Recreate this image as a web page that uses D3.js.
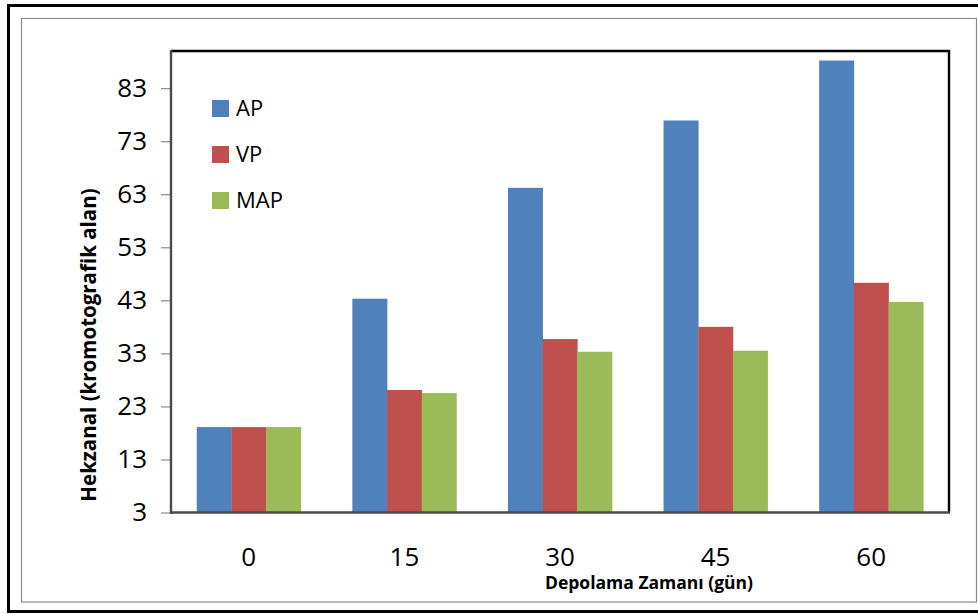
<!DOCTYPE html>
<html>
<head>
<meta charset="utf-8">
<script src="https://cdn.jsdelivr.net/npm/d3@7"></script>
<style>
  html, body { margin: 0; padding: 0; background: #fff; }
  svg { display: block; }
</style>
</head>
<body>
<svg id="chart" width="978" height="614"></svg>
<script>
// Storage time (days) and hexanal peak areas per packaging type
const categories = ["0", "15", "30", "45", "60"];
const seriesNames = ["AP", "VP", "MAP"];
const apValues  = [19.1, 43.3, 64.2, 76.9, 88.2];
const vpValues  = [19.1, 26.1, 35.7, 38.0, 46.3];
const mapValues = [19.1, 25.5, 33.3, 33.5, 42.7];
const yTicks = [3, 13, 23, 33, 43, 53, 63, 73, 83];
const colors = ["#4F81BD", "#C0504D", "#9BBB59"];

const seriesValues = [apValues, vpValues, mapValues];
const rows = categories.map((c, i) => ({
  cat: c,
  vals: seriesNames.map((s, j) => ({ name: s, value: seriesValues[j][i] }))
}));

const svg = d3.select("#chart");
const font = "'Open Sans', 'DejaVu Sans', sans-serif";

// outer frames
svg.append("rect").attr("x", 8.5).attr("y", 5.5).attr("width", 990).attr("height", 606)
  .attr("fill", "none").attr("stroke", "#000").attr("stroke-width", 3);
svg.append("rect").attr("x", 21.5).attr("y", 18.5).attr("width", 955).attr("height", 583.5)
  .attr("fill", "none").attr("stroke", "#8c8c8c").attr("stroke-width", 1.2);

const plot = { left: 171, right: 949, top: 51, bottom: 512.5 };

const x = d3.scaleBand().domain(categories).range([plot.left, plot.right]).paddingInner(0).paddingOuter(0);
const groupW = x.bandwidth() * 0.669;
const xs = d3.scaleBand().domain(seriesNames).range([0, groupW]);
const y = d3.scaleLinear().domain([3, 90]).range([plot.bottom, plot.top]);

// bars
const g = svg.append("g");
const groups = g.selectAll("g.grp").data(rows).join("g")
  .attr("transform", d => `translate(${x(d.cat) + (x.bandwidth() - groupW) / 2},0)`);
groups.selectAll("rect").data(d => d.vals).join("rect")
  .attr("x", d => xs(d.name))
  .attr("width", xs.bandwidth() + 0.3)
  .attr("y", d => y(d.value))
  .attr("height", d => y(3) - y(d.value))
  .attr("fill", (d, i) => colors[i]);

// plot frame: top and right
svg.append("path")
  .attr("d", `M${plot.left},${plot.top}H${plot.right}V${plot.bottom}`)
  .attr("fill", "none").attr("stroke", "#000").attr("stroke-width", 2.4);

// y axis
const yAxis = d3.axisLeft(y).tickValues(yTicks).tickSize(10).tickPadding(14).tickFormat(d3.format("d"));
const yg = svg.append("g").attr("transform", `translate(${plot.left},0)`).call(yAxis);
yg.select(".domain").remove();
yg.selectAll(".tick line").attr("stroke", "#8c8c8c").attr("stroke-width", 1.2);
yg.selectAll(".tick text").attr("font-family", font).attr("font-size", 26).attr("fill", "#000");
svg.append("line").attr("x1", plot.left).attr("x2", plot.left)
  .attr("y1", plot.top - 1).attr("y2", plot.bottom + 1.5)
  .attr("stroke", "#4a4a4a").attr("stroke-width", 2.4);

// x axis
const xAxis = d3.axisBottom(x).tickSize(0).tickPadding(35);
const xg = svg.append("g").attr("transform", `translate(0,${plot.bottom})`).call(xAxis);
xg.select(".domain").remove();
xg.selectAll(".tick text").attr("font-family", font).attr("font-size", 26).attr("fill", "#000");
svg.append("line").attr("x1", plot.left - 1).attr("x2", plot.right + 1)
  .attr("y1", plot.bottom).attr("y2", plot.bottom)
  .attr("stroke", "#4a4a4a").attr("stroke-width", 2.6);

// axis titles
svg.append("text")
  .attr("transform", "translate(96,345) rotate(-90)")
  .attr("text-anchor", "middle")
  .attr("font-family", font).attr("font-weight", "bold").attr("font-size", 20.5)
  .text("Hekzanal (kromotografik alan)");
svg.append("text")
  .attr("x", 649).attr("y", 589)
  .attr("text-anchor", "middle")
  .attr("font-family", font).attr("font-weight", "bold").attr("font-size", 17.5)
  .text("Depolama Zamanı (gün)");

// legend
const legend = svg.append("g").attr("transform", "translate(212,100)");
const li = legend.selectAll("g").data(seriesNames).join("g")
  .attr("transform", (d, i) => `translate(0,${i * 46})`);
li.append("rect").attr("width", 17).attr("height", 17).attr("fill", (d, i) => colors[i]);
li.append("text").attr("x", 24).attr("y", 16)
  .attr("font-family", font).attr("font-size", 22).attr("fill", "#000")
  .text(d => d);
</script>
</body>
</html>
